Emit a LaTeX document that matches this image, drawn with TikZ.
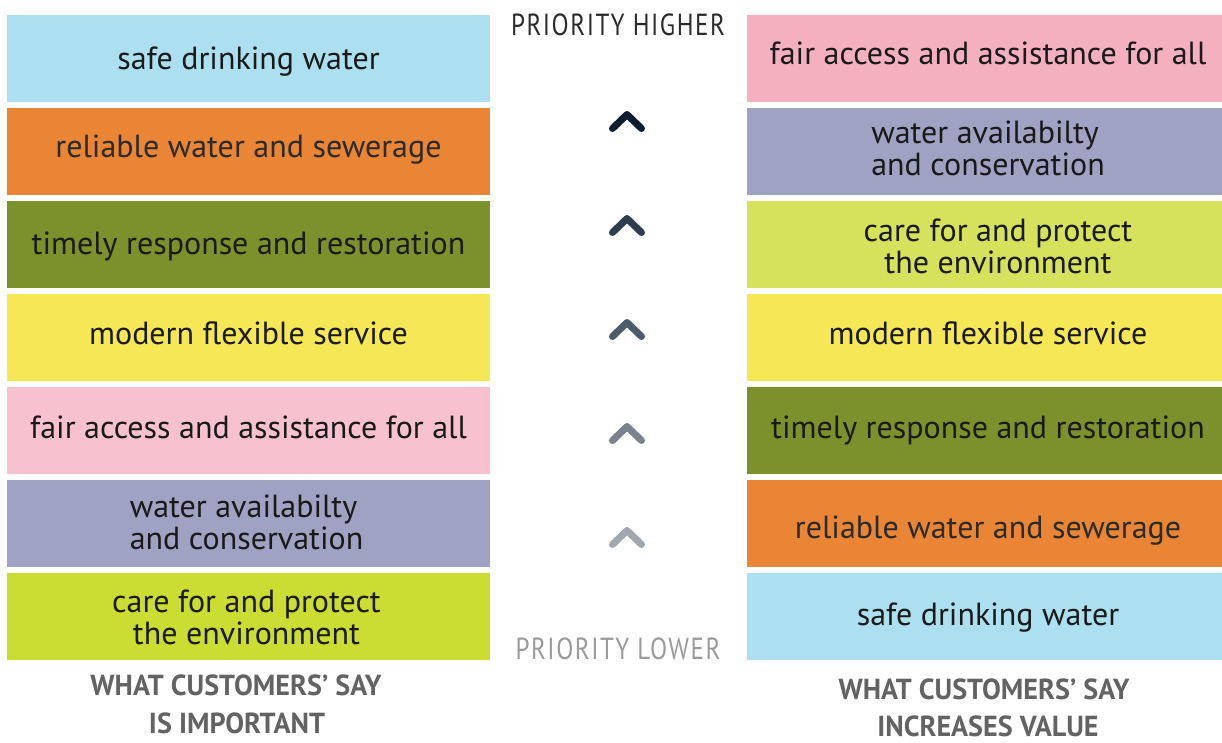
\documentclass[tikz,border=0pt]{standalone}
\usepackage{fontspec}
\setmainfont{PT Sans}
\newfontfamily\capfont[FakeStretch=0.97]{PT Sans}
\newfontfamily\prifont[FakeStretch=0.82,LetterSpace=5]{PT Sans}
\usetikzlibrary{calc}

% palette
\definecolor{skyblue}{HTML}{ACDFEF}
\definecolor{orangec}{HTML}{E98535}
\definecolor{olive}{HTML}{7C902B}
\definecolor{yellowc}{HTML}{F6E756}
\definecolor{pinkl}{HTML}{F8C1CF}
\definecolor{pinkr}{HTML}{F5B0C0}
\definecolor{lilac}{HTML}{9FA2C3}
\definecolor{limel}{HTML}{CBDC32}
\definecolor{limer}{HTML}{D6E15C}
\definecolor{ink}{HTML}{1A1A1A}
\definecolor{capgray}{HTML}{636363}
\definecolor{hi}{HTML}{2B2B2B}
\definecolor{lo}{HTML}{9B9B9B}
\definecolor{chA}{HTML}{0E1C30}
\definecolor{chB}{HTML}{2F3E4E}
\definecolor{chC}{HTML}{4E5B69}
\definecolor{chD}{HTML}{7A828D}
\definecolor{chE}{HTML}{A1A7AE}

\tikzset{
  lbox/.style={draw=none, inner sep=0pt, minimum width=483pt, minimum height=87pt},
  rbox/.style={draw=none, inner sep=0pt, minimum width=475pt, minimum height=87pt},
  label1/.style={inner sep=0pt, text=ink, font=\fontsize{32}{32}\selectfont,
                 text height=23pt, text depth=7pt},
  label2/.style={inner sep=0pt, text=ink, align=center, font=\fontsize{32}{31.5}\selectfont},
  caption/.style={inner sep=0pt, anchor=base, text=capgray, font=\capfont\bfseries\fontsize{29}{38}\selectfont},
  prio/.style={inner sep=0pt, anchor=base, font=\prifont\fontsize{30.5}{32}\selectfont},
  chevron/.style={line width=7pt, line cap=round, line join=round}
}

\begin{document}
\begin{tikzpicture}[x=1pt,y=-1pt]
\useasboundingbox (0,0) rectangle (1222,742);

% left column: what customers say is important
\node[lbox, fill=skyblue] (l1) at (248.5,58.5)  {};
\node[lbox, fill=orangec] (l2) at (248.5,151.5) {};
\node[lbox, fill=olive]   (l3) at (248.5,244.5) {};
\node[lbox, fill=yellowc] (l4) at (248.5,337.5) {};
\node[lbox, fill=pinkl]   (l5) at (248.5,430.5) {};
\node[lbox, fill=lilac]   (l6) at (248.5,523.5) {};
\node[lbox, fill=limel]   (l7) at (248.5,616.5) {};

\node[label1] (l1t) at ($(l1.center)+(0,3)$) {safe drinking water};
\node[label1, text=hi] (l2t) at ($(l2.center)+(0,-2)$) {reliable water and sewerage};
\node[label1] (l3t) at ($(l3.center)+(0,2)$) {timely response and restoration};
\node[label1] (l4t) at ($(l4.center)+(0,-1)$) {modern flexible service};
\node[label1] (l5t) at ($(l5.center)+(0,0)$) {fair access and assistance for all};
\node[label2, align=left] (l6t) at ($(l6.center)+(-2,-1)$) {water availabilty\\and conservation};
\node[label2] (l7t) at ($(l7.center)+(-2,1)$) {care for and protect\\the environment};

% right column: what customers say increases value
\node[rbox, fill=pinkr]   (r1) at (984.5,58.5)  {};
\node[rbox, fill=lilac]   (r2) at (984.5,151.5) {};
\node[rbox, fill=limer]   (r3) at (984.5,244.5) {};
\node[rbox, fill=yellowc] (r4) at (984.5,337.5) {};
\node[rbox, fill=olive]   (r5) at (984.5,430.5) {};
\node[rbox, fill=orangec] (r6) at (984.5,523.5) {};
\node[rbox, fill=skyblue] (r7) at (984.5,616.5) {};

\node[label1] (r1t) at ($(r1.center)+(3.5,-2)$) {fair access and assistance for all};
\node[label2, align=left] (r2t) at ($(r2.center)+(3.5,-3)$) {water availabilty\\and conservation};
\node[label2] (r3t) at ($(r3.center)+(13.5,2)$) {care for and protect\\the environment};
\node[label1] (r4t) at ($(r4.center)+(3.5,-1)$) {modern flexible service};
\node[label1] (r5t) at ($(r5.center)+(3.5,0)$) {timely response and restoration};
\node[label1, text=hi] (r6t) at ($(r6.center)+(3.5,7)$) {reliable water and sewerage};
\node[label1] (r7t) at ($(r7.center)+(3.5,1)$) {safe drinking water};

% priority scale
\node[prio, text=hi] (phigh) at (618,35) {PRIORITY HIGHER};
\node[prio, text=lo] (plow)  at (618,659) {PRIORITY LOWER};

\draw[chevron, chA] (612.5,128.5) -- ++(14.5,-14) -- ++(14.5,14);
\draw[chevron, chB] (612.5,232.5) -- ++(14.5,-14) -- ++(14.5,14);
\draw[chevron, chC] (612.5,336.5) -- ++(14.5,-14) -- ++(14.5,14);
\draw[chevron, chD] (612.5,440.5) -- ++(14.5,-14) -- ++(14.5,14);
\draw[chevron, chE] (612.5,544.5) -- ++(14.5,-14) -- ++(14.5,14);

% column captions
\node[caption] (lcap1) at (236,695) {WHAT CUSTOMERS’ SAY};
\node[caption] (lcap2) at (237,733) {IS IMPORTANT};
\node[caption] (rcap1) at (984,699) {WHAT CUSTOMERS’ SAY};
\node[caption] (rcap2) at (988,736) {INCREASES VALUE};
\end{tikzpicture}
\end{document}
